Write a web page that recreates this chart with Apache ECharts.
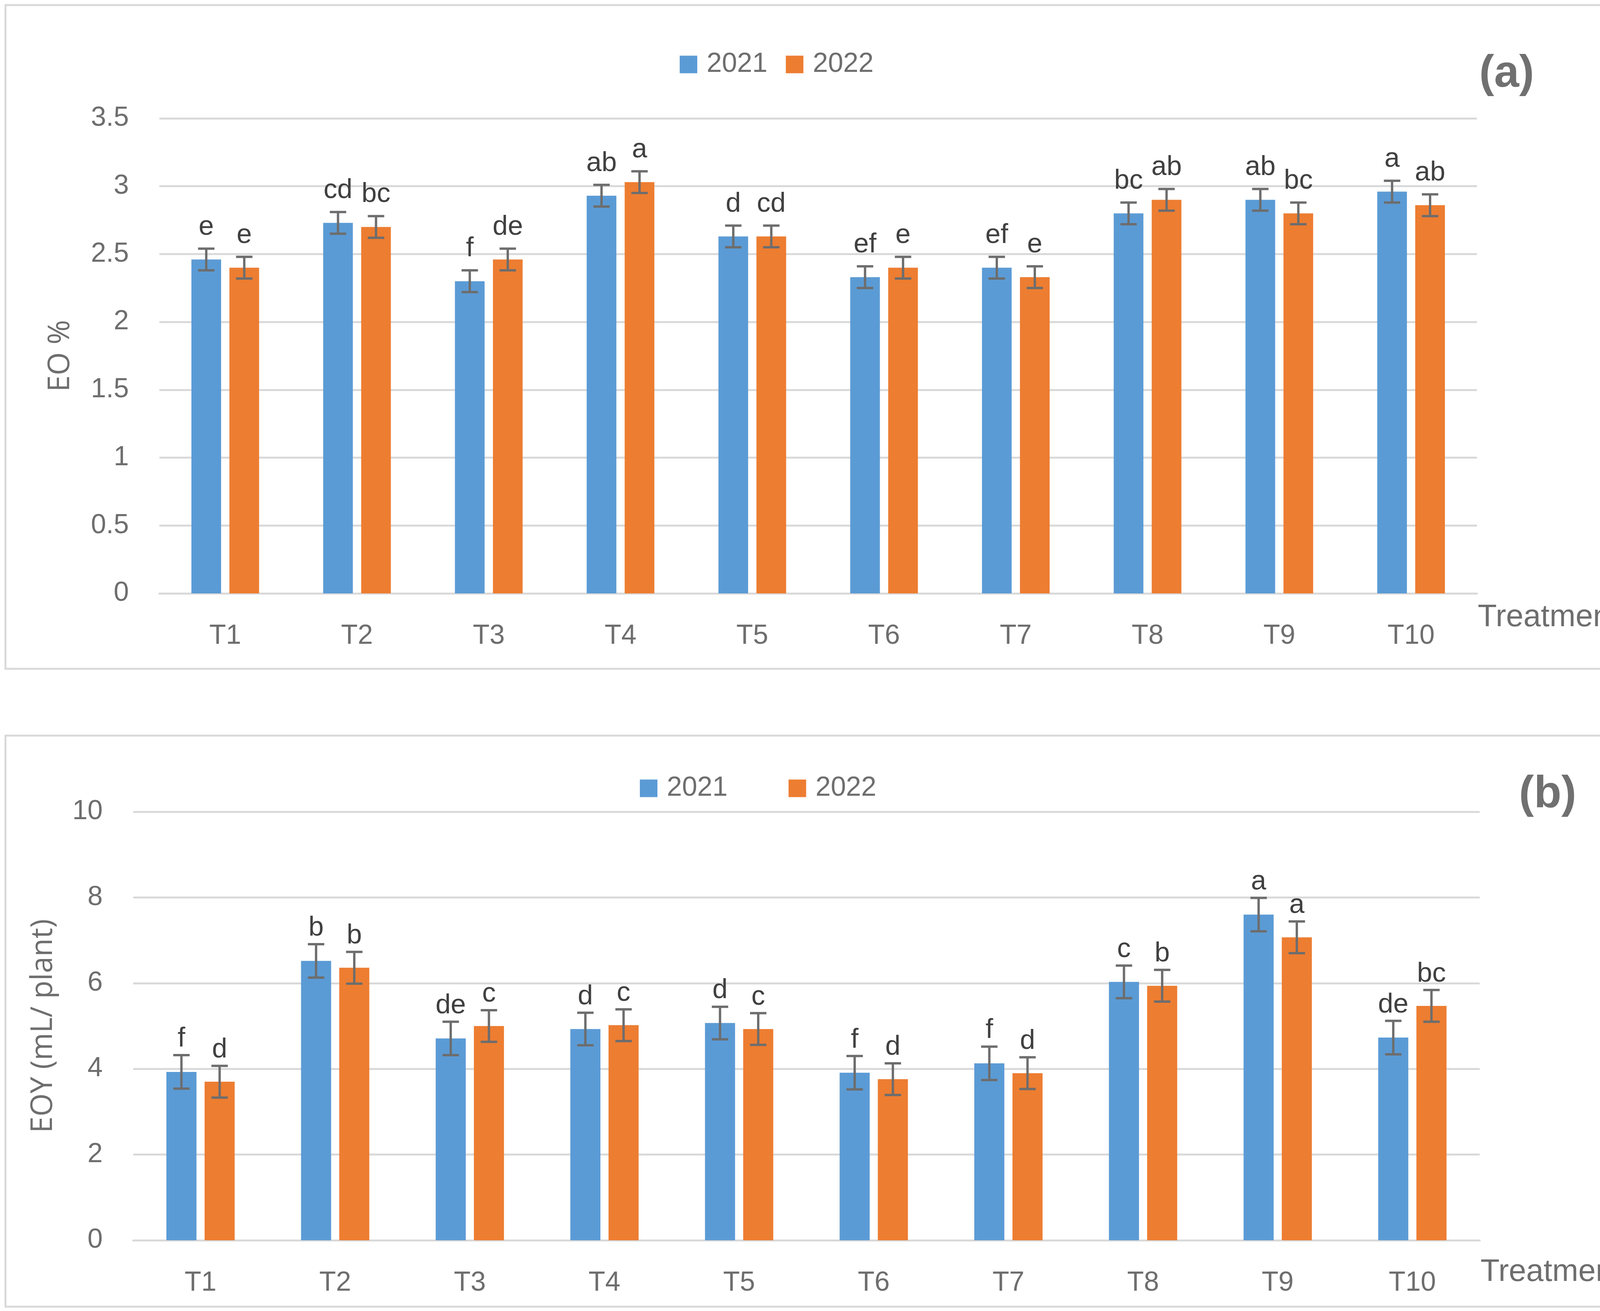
<!DOCTYPE html>
<html>
<head>
<meta charset="utf-8">
<script src="https://cdn.jsdelivr.net/npm/echarts@6/dist/echarts.min.js"></script>
<style>
html,body{margin:0;padding:0;background:#fff;}
#c{width:4273px;height:3356px;}
</style>
</head>
<body>
<div id="c"></div>
<script>
// ---------- data ----------
const categories = ['T1','T2','T3','T4','T5','T6','T7','T8','T9','T10'];
const years = ['2021','2022'];

const eo2021 = [2.46, 2.73, 2.30, 2.93, 2.63, 2.33, 2.40, 2.80, 2.90, 2.96];
const eo2022 = [2.40, 2.70, 2.46, 3.03, 2.63, 2.40, 2.33, 2.90, 2.80, 2.86];
const eoErr2021 = [0.08, 0.08, 0.08, 0.08, 0.08, 0.08, 0.08, 0.08, 0.08, 0.08];
const eoErr2022 = [0.08, 0.08, 0.08, 0.08, 0.08, 0.08, 0.08, 0.08, 0.08, 0.08];
const eoLetters2021 = ['e','cd','f','ab','d','ef','ef','bc','ab','a'];
const eoLetters2022 = ['e','bc','de','a','cd','e','e','ab','bc','ab'];

const eoy2021 = [3.93, 6.52, 4.71, 4.93, 5.07, 3.91, 4.13, 6.03, 7.60, 4.73];
const eoy2022 = [3.70, 6.36, 5.00, 5.02, 4.93, 3.76, 3.90, 5.94, 7.07, 5.47];
const eoyErr2021 = [0.39, 0.39, 0.39, 0.38, 0.38, 0.39, 0.39, 0.38, 0.39, 0.39];
const eoyErr2022 = [0.37, 0.37, 0.37, 0.37, 0.37, 0.37, 0.37, 0.37, 0.37, 0.37];
const eoyLetters2021 = ['f','b','de','d','d','f','f','c','a','de'];
const eoyLetters2022 = ['d','b','c','c','c','d','d','b','a','bc'];

const eoTicks = {min: 0, max: 3.5, interval: 0.5};
const eoyTicks = {min: 0, max: 10, interval: 2};

// ---------- style ----------
const BLUE = '#5B9BD5', ORANGE = '#ED7D31';
const GRID_COLOR = '#d9d9d9';
const TEXT = '#6e6e6e';
const LETTER = '#404040';
const ERR = '#6d6d6d';
const FONT = '"Liberation Sans", Arial, sans-serif';
const TITLE_FONT = '"Open Sans", "Noto Sans", sans-serif';
const BAR_W = [76, 77];
const BAR_GAP = ['28%', '27%'];
const LABEL_LIFT = [20, 6];

function barSeries(name, g, data, color) {
  return {
    name: name, type: 'bar', xAxisIndex: g, yAxisIndex: g,
    data: data, barWidth: BAR_W[g], barGap: BAR_GAP[g],
    itemStyle: {color: color}, z: 2
  };
}

function errSeries(name, g, idx, vals, errs, letters) {
  return {
    name: name, type: 'custom', xAxisIndex: g, yAxisIndex: g,
    itemStyle: {color: idx === 0 ? BLUE : ORANGE},
    data: vals.map((v, i) => [i, v, errs[i]]),
    encode: {x: 0, y: 1},
    z: 5,
    renderItem: function (params, api) {
      const i = api.value(0), v = api.value(1), e = api.value(2);
      const layout = api.barLayout({count: 2, barWidth: BAR_W[g], barGap: BAR_GAP[g]});
      const off = layout[idx].offsetCenter;
      const top = api.coord([i, v + e]);
      const bot = api.coord([i, v - e]);
      const x = top[0] + off;
      const cap = 21;
      const ls = {stroke: ERR, lineWidth: 6};
      return {
        type: 'group',
        children: [
          {type: 'line', shape: {x1: x, y1: top[1], x2: x, y2: bot[1]}, style: ls},
          {type: 'line', shape: {x1: x - cap, y1: top[1], x2: x + cap, y2: top[1]}, style: ls},
          {type: 'line', shape: {x1: x - cap, y1: bot[1], x2: x + cap, y2: bot[1]}, style: ls},
          {type: 'text', x: x, y: top[1] - LABEL_LIFT[g],
           style: {text: letters[params.dataIndex], fill: LETTER,
                   font: '70px ' + FONT, textAlign: 'center', textVerticalAlign: 'bottom'}}
        ]
      };
    }
  };
}

function xAxis(g) {
  return {
    type: 'category', gridIndex: g, data: categories,
    axisLine: {lineStyle: {color: GRID_COLOR, width: 5}},
    axisTick: {show: false},
    axisLabel: {color: TEXT, fontSize: 70, fontFamily: FONT, margin: 75},
    name: 'Treatment', nameLocation: 'end', nameGap: 2,
    nameTextStyle: {color: TEXT, fontSize: 80, fontFamily: FONT, align: 'left',
                    verticalAlign: 'top', padding: [g === 0 ? 22 : 42, 0, 0, 0]}
  };
}

function yAxis(g, ticks, name, gap) {
  return {
    type: 'value', gridIndex: g, min: ticks.min, max: ticks.max, interval: ticks.interval,
    axisLine: {show: false}, axisTick: {show: false},
    splitLine: {lineStyle: {color: GRID_COLOR, width: 5}},
    axisLabel: {color: TEXT, fontSize: 70, fontFamily: FONT, margin: 78},
    name: name, nameLocation: 'middle', nameGap: gap, nameRotate: 90,
    nameTextStyle: {color: TEXT, fontSize: 76, fontFamily: TITLE_FONT}
  };
}

const chart = echarts.init(document.getElementById('c'), null, {renderer: 'canvas'});
chart.setOption({
  animation: false,
  backgroundColor: '#fff',
  legend: [
    {data: years, left: 1740, top: 130, itemWidth: 45, itemHeight: 45, itemGap: 47,
     icon: 'rect', padding: 0,
     textStyle: {color: TEXT, fontSize: 70, fontFamily: FONT, padding: [0, 0, 0, 19]}},
    {data: years, left: 1638, top: 1983, itemWidth: 45, itemHeight: 45, itemGap: 156,
     icon: 'rect', padding: 0,
     textStyle: {color: TEXT, fontSize: 70, fontFamily: FONT, padding: [0, 0, 0, 19]}}
  ],
  grid: [
    {left: 408, right: 492, top: 303, height: 1216},
    {left: 341, right: 485, top: 2078, height: 1097}
  ],
  xAxis: [xAxis(0), xAxis(1)],
  yAxis: [yAxis(0, eoTicks, 'EO %', 215), yAxis(1, eoyTicks, 'EOY (mL/ plant)', 192)],
  graphic: [
    {type: 'rect', shape: {x: 14, y: 13, width: 4216, height: 1699},
     style: {fill: 'none', stroke: GRID_COLOR, lineWidth: 5}, silent: true, z: -1},
    {type: 'rect', shape: {x: 14, y: 1883, width: 4242, height: 1462},
     style: {fill: 'none', stroke: GRID_COLOR, lineWidth: 5}, silent: true, z: -1},
    {type: 'text', x: 3857, y: 190,
     style: {text: '(a)', fill: '#707070', font: 'bold 115px ' + FONT,
             textAlign: 'center', textVerticalAlign: 'middle'}},
    {type: 'text', x: 3962, y: 2035,
     style: {text: '(b)', fill: '#707070', font: 'bold 115px ' + FONT,
             textAlign: 'center', textVerticalAlign: 'middle'}}
  ],
  series: [
    barSeries('2021', 0, eo2021, BLUE),
    barSeries('2022', 0, eo2022, ORANGE),
    barSeries('2021', 1, eoy2021, BLUE),
    barSeries('2022', 1, eoy2022, ORANGE),
    errSeries('2021', 0, 0, eo2021, eoErr2021, eoLetters2021),
    errSeries('2022', 0, 1, eo2022, eoErr2022, eoLetters2022),
    errSeries('2021', 1, 0, eoy2021, eoyErr2021, eoyLetters2021),
    errSeries('2022', 1, 1, eoy2022, eoyErr2022, eoyLetters2022)
  ]
});
</script>
</body>
</html>
